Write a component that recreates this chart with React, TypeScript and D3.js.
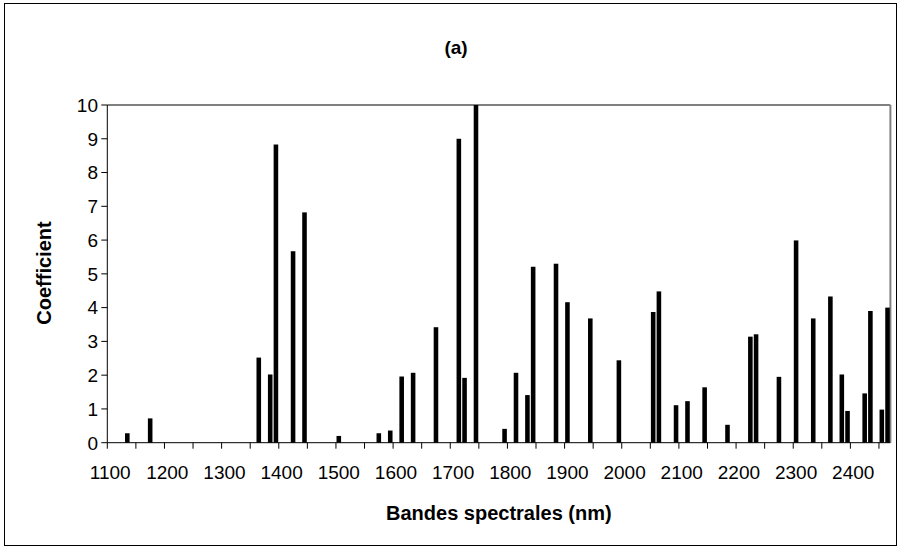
import React from "react";
import * as d3 from "d3";

const bandWavelengths: number[] = [
  1130, 1170, 1360, 1380, 1390, 1420, 1440, 1500, 1570, 1590, 1610, 1630, 1670,
  1710, 1720, 1740, 1790, 1810, 1830, 1840, 1880, 1900, 1940, 1990, 2050, 2060,
  2090, 2110, 2140, 2180, 2220, 2230, 2270, 2300, 2330, 2360, 2380, 2390, 2420,
  2430, 2450, 2460,
];
const bandCoefficients: number[] = [
  0.28, 0.72, 2.52, 2.02, 8.83, 5.67, 6.82, 0.2, 0.28, 0.36, 1.96, 2.07, 3.42,
  9.0, 1.92, 10.0, 0.41, 2.07, 1.41, 5.21, 5.3, 4.16, 3.68, 2.44, 3.87, 4.48,
  1.11, 1.23, 1.64, 0.53, 3.14, 3.21, 1.95, 5.99, 3.68, 4.33, 2.02, 0.94, 1.46,
  3.9, 0.98, 4.0,
];
// category axis: every 10 nm from 1100 to 2460
const categoryStart = 1100;
const categoryEnd = 2460;
const categoryStep = 10;
const xLabelValues: number[] = [
  1100, 1200, 1300, 1400, 1500, 1600, 1700, 1800, 1900, 2000, 2100, 2200, 2300, 2400,
];
const yTickValues: number[] = [0, 1, 2, 3, 4, 5, 6, 7, 8, 9, 10];

const title = "(a)";
const xTitle = "Bandes spectrales (nm)";
const yTitle = "Coefficient";

const W = 899;
const H = 548;
const L = 107.3;
const R = 890.4;
const T = 105;
const B = 442.7;
const FONT = "'Liberation Sans', Arial, sans-serif";

export default function App() {
  const categories = d3.range(categoryStart, categoryEnd + 1, categoryStep);
  const x = d3
    .scaleBand<number>()
    .domain(categories)
    .range([L, R])
    .paddingInner(0.2)
    .paddingOuter(0.1);
  const step = x.step();
  const y = d3.scaleLinear().domain([0, 10]).range([B, T]);

  const data = bandWavelengths.map((w, i) => ({ w, v: bandCoefficients[i] }));
  const tickIdx = d3.range(0, Math.floor(categories.length / 5) + 1);

  return (
    <svg
      width={W}
      height={H}
      style={{ position: "absolute", left: 0, top: 0, background: "#fff" }}
      fontFamily={FONT}
    >
      <rect x={0} y={0} width={W} height={H} fill="#fff" />
      <rect x={4.5} y={3.5} width={892} height={542} fill="none" stroke="#000" strokeWidth={1} />

      {/* plot frame */}
      <line x1={L} x2={R} y1={T} y2={T} stroke="#808080" strokeWidth={2} />
      <line x1={R} x2={R} y1={T} y2={B} stroke="#808080" strokeWidth={2} />

      {/* bars */}
      {data.map((d) => (
        <rect
          key={d.w}
          x={x(d.w)!}
          y={y(d.v)}
          width={x.bandwidth()}
          height={B - y(d.v)}
          fill="#000"
        />
      ))}

      {/* y axis */}
      <line x1={L} x2={L} y1={T} y2={B} stroke="#000" strokeWidth={1} />
      {yTickValues.map((t) => (
        <g key={t}>
          <line x1={L - 6} x2={L} y1={y(t)} y2={y(t)} stroke="#000" />
          <text x={98} y={y(t)} dy="0.36em" textAnchor="end" fontSize={19}>
            {t}
          </text>
        </g>
      ))}

      {/* x axis */}
      <line x1={L} x2={R} y1={B} y2={B} stroke="#000" strokeWidth={1} />
      {tickIdx.map((k) => (
        <line
          key={k}
          x1={L + k * 5 * step}
          x2={L + k * 5 * step}
          y1={B}
          y2={B + 6}
          stroke="#000"
        />
      ))}
      {xLabelValues.map((v) => (
        <text
          key={v}
          x={x(v)! + x.bandwidth() / 2}
          y={479}
          textAnchor="middle"
          fontSize={19}
        >
          {v}
        </text>
      ))}

      <text x={456} y={54} textAnchor="middle" fontSize={19} fontWeight="bold">
        {title}
      </text>
      <text x={(L + R) / 2} y={520} textAnchor="middle" fontSize={20} fontWeight="bold">
        {xTitle}
      </text>
      <text
        transform={`translate(51,273) rotate(-90)`}
        textAnchor="middle"
        fontSize={20}
        fontWeight="bold"
      >
        {yTitle}
      </text>
    </svg>
  );
}
